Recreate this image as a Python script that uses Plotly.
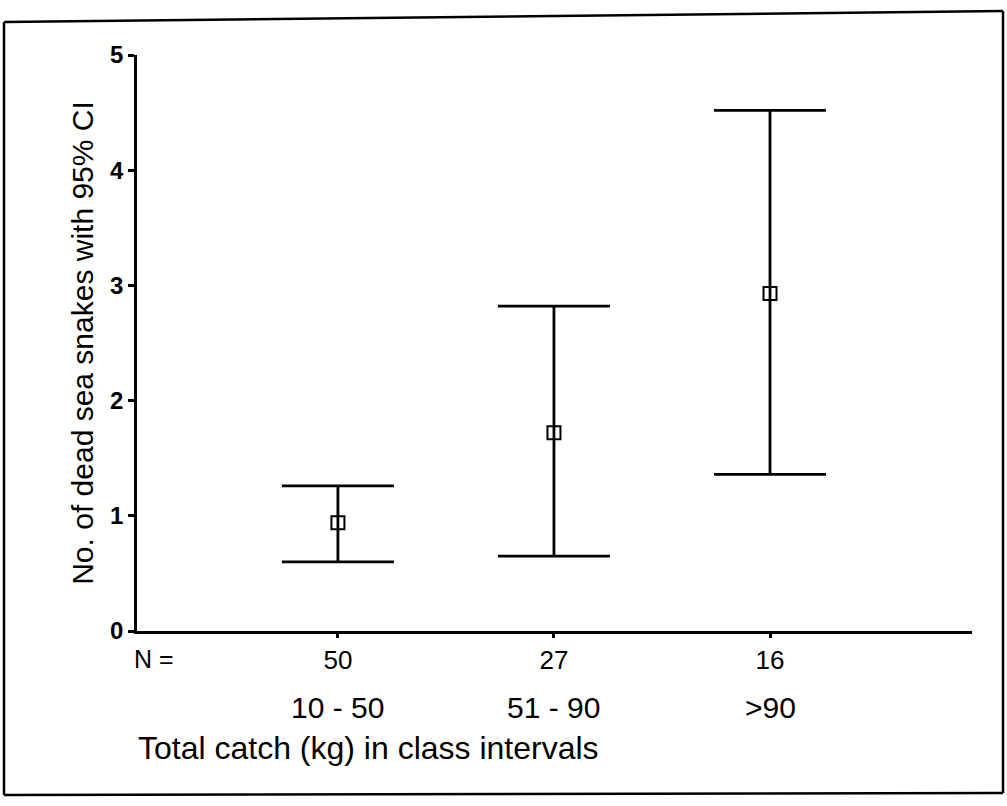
import plotly.graph_objects as go

# Data
x_pos = [1, 2, 3]
n_labels = ["50", "27", "16"]
class_labels = ["10 - 50", "51 - 90", ">90"]
means = [0.94, 1.72, 2.93]
upper_ci = [1.26, 2.82, 4.52]
lower_ci = [0.60, 0.65, 1.36]
y_ticks = [0, 1, 2, 3, 4, 5]

W, H = 1007, 806
L, R, T, B = 137, 35, 55, 175
PW, PH = W - L - R, H - T - B


def px(x):
    return (x - L) / PW


def py(y):
    return (H - B - y) / PH


err_plus = [u - m for u, m in zip(upper_ci, means)]
err_minus = [m - lo for m, lo in zip(means, lower_ci)]

fig = go.Figure()
fig.add_trace(go.Scatter(
    x=x_pos, y=means, mode="markers",
    marker=dict(symbol="square-open", size=13, color="black", line=dict(width=2, color="black")),
    error_y=dict(type="data", symmetric=False, array=err_plus, arrayminus=err_minus,
                 color="black", thickness=2.8, width=56),
    showlegend=False, hoverinfo="skip",
))

font_family = "Liberation Sans, Arial, sans-serif"

fig.update_layout(
    width=W, height=H,
    margin=dict(l=L, r=R, t=T, b=B),
    paper_bgcolor="white", plot_bgcolor="white",
    font=dict(family=font_family, color="black"),
    xaxis=dict(
        range=[0.07, 3.935], tickvals=x_pos, ticktext=n_labels,
        showline=True, linecolor="black", linewidth=2.5,
        ticks="outside", ticklen=4, tickwidth=3, tickcolor="black",
        showgrid=False, zeroline=False,
        tickfont=dict(size=26, family=font_family, color="black"),
    ),
    yaxis=dict(
        range=[0, 5], tickvals=y_ticks,
        showline=True, linecolor="black", linewidth=2.5,
        ticks="outside", ticklen=6, tickwidth=3, tickcolor="black",
        showgrid=False, zeroline=False,
        tickfont=dict(size=24, family=font_family, color="black", weight="bold"),
        title=dict(text="No. of dead sea snakes with 95% CI",
                   font=dict(size=30, family=font_family, color="black"), standoff=8),
    ),
)

annotations = []
annotations.append(dict(x=px(154), y=py(659), xref="paper", yref="paper", text="N =",
                        showarrow=False, font=dict(size=25, family=font_family, color="black"),
                        xanchor="center", yanchor="middle"))
for xv, lab in zip(x_pos, class_labels):
    annotations.append(dict(x=xv, y=py(707), xref="x", yref="paper", text=lab,
                            showarrow=False,
                            font=dict(size=30, family=font_family, color="black"),
                            xanchor="center", yanchor="middle"))
annotations.append(dict(x=px(136), y=py(748), xref="paper", yref="paper",
                        text="Total catch (kg) in class intervals", showarrow=False,
                        font=dict(size=32, family=font_family, color="black"),
                        xanchor="left", yanchor="middle"))
fig.update_layout(annotations=annotations)

# scanned page frame
frame = [((4, 22), (1003, 11)), ((4, 22), (4, 795)), ((4, 795), (1003, 793)), ((1003, 11), (1003, 793))]
shapes = []
for (x0, y0), (x1, y1) in frame:
    shapes.append(dict(type="line", xref="paper", yref="paper",
                       x0=px(x0), y0=py(y0), x1=px(x1), y1=py(y1),
                       line=dict(color="black", width=2.5)))
fig.update_layout(shapes=shapes)

fig.write_html("out.html")
